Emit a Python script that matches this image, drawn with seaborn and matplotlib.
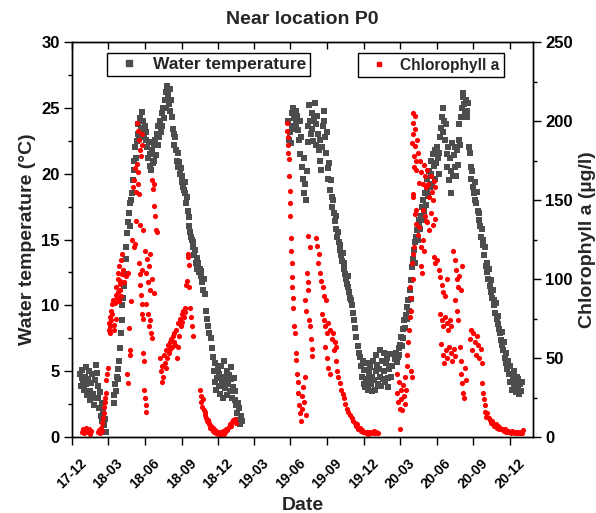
import numpy as np
import pandas as pd
import matplotlib
matplotlib.use("Agg")
import matplotlib.pyplot as plt
import matplotlib.dates as mdates
from matplotlib.lines import Line2D
from matplotlib.ticker import MultipleLocator
import seaborn as sns

# Observation dates are stored as days since 2017-12-01
START = pd.Timestamp("2017-12-01")

# Water temperature (°C), first season: Dec 2017 - Jan 2019
temp_2018 = [
    (20, 4.8), (22, 3.9), (24, 4.5), (26, 5.1), (28, 4.2), (30, 3.6), (32, 4.6), (34, 5.3),
    (36, 4.0), (38, 3.2), (40, 4.4), (42, 5.0), (44, 3.5), (46, 2.8), (48, 4.1), (50, 4.8),
    (52, 3.3), (54, 2.4), (56, 3.0), (58, 4.3), (60, 5.5), (62, 4.9), (64, 3.9), (66, 3.0),
    (68, 2.2), (70, 3.4), (72, 1.6), (74, 2.6), (76, 1.2), (78, 2.0), (80, 0.9), (83, 1.4),
    (86, 0.4),
    (104, 2.6), (106, 3.2), (108, 4.0), (110, 3.5), (112, 4.6), (114, 5.2), (116, 4.4),
    (118, 5.8), (120, 6.8), (122, 7.9), (124, 8.9), (126, 10.0), (128, 10.6), (130, 11.5),
    (132, 12.4), (134, 13.5), (136, 14.4), (138, 15.5), (140, 16.3), (142, 17.0), (144, 17.8),
    (146, 16.0), (148, 18.0), (150, 18.5), (152, 19.5), (154, 20.3), (156, 21.0), (158, 22.0),
    (160, 21.2), (162, 22.5), (164, 23.0), (166, 23.8), (168, 22.9), (170, 24.2), (172, 23.5),
    (174, 24.7), (176, 23.2), (178, 24.0), (180, 22.8), (182, 23.6), (184, 22.6), (186, 23.2),
    (188, 22.0), (190, 21.2), (192, 22.4), (194, 20.6), (196, 21.5), (198, 20.3), (200, 21.8),
    (202, 20.8), (204, 22.2), (206, 21.0), (208, 22.6), (210, 21.4), (212, 23.0), (214, 22.2),
    (216, 23.6), (218, 22.8), (220, 24.0), (222, 23.2), (224, 24.6), (226, 23.6), (228, 25.0),
    (230, 24.2), (232, 25.6), (234, 26.2), (236, 25.0), (238, 26.7), (240, 26.0), (242, 25.3),
    (244, 26.4), (246, 24.8), (248, 25.6), (250, 24.3), (252, 23.4), (254, 23.0), (256, 22.2),
    (258, 22.8), (260, 21.8), (262, 21.0), (264, 21.6), (266, 20.5), (268, 20.9), (270, 20.0),
    (272, 20.4), (274, 19.4), (276, 19.8), (278, 19.0), (280, 18.8), (282, 19.4), (284, 18.5),
    (286, 17.8), (288, 18.2), (290, 17.2), (292, 16.7), (294, 16.0), (296, 15.6), (298, 15.2),
    (300, 15.0), (302, 14.4), (304, 14.8), (306, 13.8), (308, 14.2), (310, 13.2), (312, 13.6),
    (314, 12.8), (316, 13.2), (318, 12.5), (320, 12.8), (322, 12.2), (324, 12.6), (326, 11.8),
    (328, 11.2), (330, 12.0), (332, 10.9), (335, 9.6), (338, 9.0), (341, 8.4), (344, 7.9),
    (347, 7.5), (350, 6.8), (353, 6.1), (355, 5.0), (357, 4.2), (359, 5.6), (361, 3.6),
    (363, 4.5), (365, 5.2), (367, 3.9), (369, 4.8), (371, 3.3), (373, 5.4), (375, 4.1),
    (377, 3.0), (379, 4.6), (381, 5.8), (383, 3.7), (385, 4.3), (387, 5.0), (389, 3.2),
    (391, 4.0), (393, 4.7), (395, 3.5), (397, 5.3), (399, 4.4), (401, 3.0), (403, 3.8),
    (405, 4.5), (407, 2.8), (409, 3.5), (411, 2.4), (413, 1.8), (415, 2.6), (417, 1.3),
    (419, 2.2), (421, 1.0), (423, 1.6), (425, 1.2),
]

# Water temperature (°C), second record: Jun 2019 - Jan 2021
temp_2019_20 = [
    (542, 24.0), (544, 22.6), (546, 23.2), (548, 22.3), (550, 24.6), (552, 23.6), (554, 25.0),
    (556, 24.2), (558, 23.4), (560, 24.8), (562, 23.8), (564, 24.4), (566, 23.3), (568, 22.6),
    (570, 24.0), (572, 21.5), (574, 22.8), (576, 20.5), (578, 19.6), (580, 21.2), (582, 18.5),
    (584, 19.2), (586, 18.0), (588, 20.2), (590, 22.4), (592, 23.6), (594, 25.2), (596, 24.0),
    (598, 23.0), (600, 24.6), (602, 23.4), (604, 22.5), (606, 24.2), (608, 25.4), (610, 23.8),
    (612, 22.2), (614, 24.4), (616, 23.0), (618, 21.8), (620, 22.6), (622, 21.0), (624, 20.3),
    (626, 22.0), (628, 23.6), (630, 24.8), (632, 24.0), (634, 22.8), (636, 21.6), (638, 23.2),
    (640, 20.4), (642, 19.6), (644, 20.8), (646, 18.8), (648, 19.5), (650, 18.2), (652, 17.5),
    (654, 18.0), (656, 17.0), (658, 16.4), (660, 16.8), (662, 15.8), (664, 15.2), (666, 15.6),
    (668, 14.8), (670, 14.2), (672, 14.6), (674, 13.8), (676, 13.4), (678, 14.0), (680, 12.8),
    (682, 13.2), (684, 12.4), (686, 12.0), (688, 11.6), (690, 12.2), (692, 11.4), (694, 11.0),
    (696, 10.6), (698, 10.4), (700, 10.0), (703, 9.4), (706, 8.9), (709, 8.3), (712, 7.6),
    (715, 6.9), (718, 6.4), (721, 6.1), (724, 5.4), (726, 4.6), (728, 5.8), (730, 4.0),
    (732, 5.1), (734, 3.8), (736, 4.4), (738, 5.6), (740, 4.2), (742, 3.6), (744, 4.9),
    (746, 5.3), (748, 4.0), (750, 3.5), (752, 4.6), (754, 5.8), (756, 4.3), (758, 3.6),
    (760, 5.0), (762, 6.2), (764, 5.5), (766, 4.0), (768, 5.2), (770, 6.6), (772, 4.6),
    (774, 3.9), (776, 5.8), (778, 4.4), (780, 6.4), (782, 5.0), (784, 4.2), (786, 5.6),
    (788, 6.0), (790, 4.5), (792, 3.8), (794, 5.2), (796, 6.3), (798, 4.6), (801, 5.4),
    (810, 5.9), (812, 6.4), (814, 5.7), (816, 6.1), (818, 6.8), (820, 6.2), (822, 7.0),
    (824, 7.6), (826, 6.9), (828, 8.2), (830, 7.5), (832, 8.9), (834, 8.3), (836, 9.3),
    (838, 9.9), (840, 9.0), (842, 10.4), (844, 9.6), (846, 11.2), (848, 10.5), (850, 11.9),
    (852, 12.9), (854, 13.5), (856, 14.2), (858, 13.2), (860, 14.8), (862, 15.2), (864, 15.7),
    (866, 15.0), (868, 16.2), (870, 16.5), (872, 15.8), (874, 16.8), (876, 17.5), (878, 16.5),
    (880, 18.0), (882, 17.2), (884, 18.5), (886, 17.6), (888, 18.8), (890, 19.6), (892, 18.3),
    (894, 20.2), (896, 19.0), (898, 21.0), (900, 20.0), (902, 19.2), (904, 21.5), (906, 20.6),
    (908, 19.6), (910, 21.8), (912, 20.8), (914, 22.0), (916, 21.2), (918, 20.0), (920, 21.6),
    (922, 22.8), (924, 23.5), (926, 24.3), (928, 23.2), (930, 25.0), (932, 24.0), (934, 22.6),
    (936, 23.8), (938, 21.5), (940, 20.5), (942, 22.0), (944, 19.5), (946, 21.2), (948, 18.5),
    (950, 20.2), (952, 22.3), (954, 19.8), (956, 21.4), (958, 20.5), (960, 22.0), (962, 19.8),
    (964, 21.8), (966, 20.7), (968, 22.6), (970, 23.8), (972, 22.2), (974, 24.3), (976, 25.0),
    (978, 25.8), (980, 26.1), (982, 25.3), (984, 24.6), (986, 25.6), (988, 24.3), (990, 24.8),
    (992, 25.4), (994, 22.0), (996, 21.6), (998, 20.5), (1000, 19.6), (1002, 20.2), (1004, 19.0),
    (1006, 18.5), (1008, 19.4), (1010, 18.0), (1012, 17.8), (1014, 18.6), (1016, 17.2),
    (1018, 16.5), (1020, 17.0), (1022, 16.0), (1024, 15.2), (1026, 15.8), (1028, 14.6),
    (1030, 15.0), (1032, 13.8), (1034, 14.4), (1036, 13.0), (1038, 12.5), (1040, 13.2),
    (1042, 12.0), (1044, 12.8), (1046, 11.5), (1048, 11.9), (1050, 11.0), (1052, 10.6),
    (1054, 11.2), (1056, 10.4), (1058, 10.0), (1060, 9.4), (1062, 10.2), (1064, 9.0),
    (1066, 8.6), (1068, 9.2), (1070, 8.2), (1072, 7.9), (1074, 7.4), (1076, 8.0), (1078, 7.0),
    (1080, 6.6), (1082, 7.2), (1084, 6.0), (1086, 5.6), (1088, 6.4), (1090, 5.2), (1092, 5.8),
    (1094, 4.8), (1096, 5.4), (1098, 4.2), (1100, 4.8), (1102, 3.6), (1104, 4.4), (1106, 5.0),
    (1108, 3.8), (1110, 4.2), (1112, 3.4), (1114, 4.6), (1116, 3.8), (1118, 4.4), (1120, 3.3),
    (1122, 4.0), (1124, 3.5), (1126, 4.2),
]

# Chlorophyll a (µg/l), Dec 2017 - Jan 2019
chl_2018 = [
    (24, 3.5), (27, 5.2), (30, 2.4), (33, 4.0), (36, 6.0), (39, 3.0), (42, 4.8), (45, 2.2),
    (48, 3.6), (66, 3.0), (68, 4.6), (70, 2.5), (72, 6.0), (74, 4.0), (76, 9.0), (78, 12.0),
    (79, 15.0), (80, 19.0), (82, 22.0), (83, 25.0), (84, 28.0), (86, 36.0), (87, 40.0),
    (89, 44.0), (92, 68), (93, 72), (94, 76), (95, 66), (96, 70), (97, 74), (98, 80), (99, 84),
    (100, 78), (102, 87), (104, 71), (106, 68), (110, 75), (107, 85), (109, 90), (111, 95),
    (113, 88), (115, 92), (117, 86), (119, 97), (121, 93), (123, 89), (114, 100), (116, 104),
    (118, 108), (120, 99), (122, 112), (124, 116), (126, 103), (128, 106), (130, 98),
    (134, 102), (140, 104), (138, 40), (141, 34), (142, 69), (144, 55), (146, 52), (148, 86),
    (150, 125), (154, 120), (158, 122), (152, 158), (156, 163), (160, 155), (164, 160),
    (168, 154), (157, 170), (162, 173), (166, 168), (163, 199), (165, 194), (167, 188),
    (170, 182), (172, 178), (174, 192), (176, 185), (159, 137), (171, 134), (178, 131),
    (167, 110), (169, 103), (170, 96), (172, 90), (174, 84), (176, 106), (175, 78), (177, 75),
    (178, 53), (180, 48), (180, 30), (182, 25), (184, 20), (186, 16), (183, 118), (188, 113),
    (192, 108), (196, 116), (186, 104), (190, 98), (195, 93), (199, 100), (204, 91), (184, 84),
    (190, 78), (195, 74), (193, 70), (197, 66), (199, 63), (200, 163), (203, 157), (206, 160),
    (204, 146), (208, 140), (210, 131), (213, 130),
    (220, 50), (222, 42), (224, 35), (226, 45), (228, 38), (230, 52), (232, 47), (234, 55),
    (236, 44), (238, 50), (240, 58), (242, 53), (244, 60), (246, 56), (248, 62), (250, 57),
    (252, 64), (254, 60), (256, 66), (258, 58), (260, 68), (262, 50), (264, 57), (266, 72),
    (268, 64), (270, 75), (272, 70), (274, 78), (276, 73), (278, 80), (280, 76), (282, 82),
    (284, 79), (286, 96), (288, 99), (290, 114), (291, 116), (292, 109), (294, 95), (296, 82),
    (298, 76), (300, 70), (302, 64),
    (320, 30), (322, 26), (324, 22), (326, 19), (328, 24), (330, 17), (332, 14), (334, 16),
    (336, 12), (338, 10), (340, 11), (342, 8), (344, 9), (346, 6), (348, 7), (350, 5),
    (352, 4), (354, 6), (356, 3), (358, 4.5), (360, 2.5), (362, 3.5), (365, 2.0), (368, 3.2),
    (371, 1.5), (374, 2.8), (377, 4.0), (380, 2.2), (383, 3.5), (386, 5.0), (389, 4.2),
    (392, 6.5), (395, 8.0), (398, 7.2), (401, 9.5), (404, 10.5), (407, 11.5), (410, 9.0),
]

# Chlorophyll a (µg/l), Jun 2019 - Jan 2020
chl_2019 = [
    (538, 199), (539, 194), (540, 190), (541, 185), (542, 180), (543, 176), (544, 165),
    (545, 156), (546, 148), (547, 140), (548, 126), (549, 118), (550, 110), (551, 101),
    (552, 95), (553, 88), (554, 82), (556, 70), (558, 66), (560, 53), (562, 49), (563, 40),
    (565, 35), (567, 28), (569, 20), (571, 15), (573, 10), (575, 26), (577, 18), (579, 32),
    (581, 22), (583, 38), (585, 14), (584, 87), (586, 80), (588, 104), (590, 98), (592, 93),
    (594, 74), (596, 70), (598, 62), (600, 51), (602, 56), (590, 127), (595, 120), (610, 126),
    (614, 121), (618, 116), (616, 110), (620, 104), (624, 99), (628, 95), (632, 89), (636, 87),
    (626, 78), (630, 74), (634, 70), (638, 66), (642, 72), (646, 68), (650, 62), (654, 66),
    (658, 60), (662, 57), (634, 57), (638, 50), (642, 44), (646, 40), (656, 55), (660, 48),
    (664, 42), (666, 38), (670, 34), (674, 30), (678, 27), (682, 25), (684, 21), (688, 18),
    (692, 16), (696, 14), (700, 12), (704, 10), (708, 9), (711, 7), (714, 8), (717, 5),
    (720, 6), (723, 4), (726, 4.5), (729, 3), (732, 3.5), (735, 2.5), (738, 3), (741, 2),
    (744, 3), (747, 2.5), (750, 3.5), (753, 2.8), (756, 3.8), (759, 2.5), (762, 3.2),
    (765, 2.8),
]

# Chlorophyll a (µg/l), Mar 2020 - Jan 2021
chl_2020 = [
    (813, 40), (815, 28), (817, 22), (819, 35), (821, 18), (822, 5), (823, 30), (825, 24),
    (827, 17), (829, 33), (831, 26), (833, 21), (835, 38), (837, 30), (838, 45), (840, 52),
    (842, 60), (844, 68), (846, 76), (848, 80), (850, 42), (852, 38), (847, 95), (849, 88),
    (851, 110), (853, 100), (855, 116), (857, 120), (859, 141), (861, 144), (852, 186),
    (853, 199), (854, 205), (855, 192), (856, 178), (857, 171), (858, 184), (859, 203),
    (860, 195), (861, 175), (862, 169), (864, 188), (866, 180), (868, 161), (862, 135),
    (866, 128), (870, 133), (874, 120), (878, 125), (882, 118), (886, 137), (853, 154),
    (855, 152), (872, 175), (875, 168), (878, 160), (881, 172), (884, 165), (887, 158),
    (889, 169), (892, 160), (895, 152), (898, 165), (901, 155), (904, 150), (907, 162),
    (910, 158), (880, 144), (885, 140), (890, 136), (895, 131), (900, 142), (905, 134),
    (910, 138), (873, 108), (877, 104), (906, 114), (910, 110), (914, 112), (918, 106),
    (922, 101), (926, 96), (930, 92), (934, 89), (938, 100), (922, 78), (926, 74), (930, 70),
    (934, 76), (938, 72), (942, 68), (946, 74), (950, 70), (924, 59), (928, 52), (932, 47),
    (936, 55), (940, 50), (944, 57), (948, 53), (952, 48), (956, 56), (960, 51), (955, 118),
    (958, 112), (961, 106), (964, 100), (967, 95), (970, 102), (973, 93), (976, 108),
    (959, 87), (963, 80), (966, 74), (971, 57), (973, 48), (975, 40), (977, 34), (979, 28),
    (981, 25), (984, 44), (987, 36), (996, 62), (999, 68), (1002, 55), (1005, 66), (1008, 60),
    (1011, 52), (1014, 64), (1017, 58), (1020, 50), (1023, 56), (1026, 47), (1027, 34),
    (1029, 28), (1031, 24), (1033, 20), (1035, 16), (1037, 13), (1040, 15), (1043, 12),
    (1046, 11), (1049, 9), (1052, 10), (1055, 8), (1058, 7), (1061, 8), (1064, 6), (1067, 7),
    (1070, 5), (1073, 6), (1076, 5), (1079, 4.5), (1082, 4), (1085, 5), (1088, 3.5),
    (1091, 4), (1094, 3), (1097, 3.5), (1100, 2.8), (1103, 4), (1106, 3), (1109, 2.5),
    (1112, 3.2), (1115, 2.5), (1118, 3.5), (1121, 2.8), (1124, 3), (1127, 2.5), (1130, 4.5),
]

GRAY = "#4d4d4d"
RED = "#ff0000"


def to_frame(records, name):
    df = pd.DataFrame(records, columns=["day", name])
    df["date"] = START + pd.to_timedelta(df["day"], unit="D")
    return df


temp_df = to_frame(temp_2018 + temp_2019_20, "temperature")
chl_df = to_frame(chl_2018 + chl_2019 + chl_2020, "chlorophyll")

sns.set_theme(style="ticks")
plt.rcParams["font.family"] = ["Liberation Sans", "DejaVu Sans"]
plt.rcParams["font.weight"] = "bold"

fig = plt.figure(figsize=(5.96, 5.13), dpi=100)
ax1 = fig.add_axes([0.121, 0.148, 0.773, 0.770])
ax2 = ax1.twinx()

sns.scatterplot(data=temp_df, x="date", y="temperature", ax=ax1, marker="s", s=19,
                color=GRAY, linewidth=0, legend=False)
sns.scatterplot(data=chl_df, x="date", y="chlorophyll", ax=ax2, marker="o", s=14,
                color=RED, linewidth=0, legend=False)

ax1.set_xlim(pd.Timestamp("2017-12-01"), pd.Timestamp("2021-01-28"))
ax1.set_ylim(0, 30)
ax2.set_ylim(0, 250)

ax1.xaxis.set_major_locator(mdates.MonthLocator(bymonth=[3, 6, 9, 12]))
ax1.xaxis.set_major_formatter(mdates.DateFormatter("%y-%m"))
ax1.yaxis.set_major_locator(MultipleLocator(5))
ax1.yaxis.set_minor_locator(MultipleLocator(2.5))
ax2.yaxis.set_major_locator(MultipleLocator(50))
ax2.yaxis.set_minor_locator(MultipleLocator(25))

for ax in (ax1, ax2):
    for sp in ax.spines.values():
        sp.set_visible(True)
        sp.set_color("black")
        sp.set_linewidth(1.0)

ax1.tick_params(axis="x", which="major", direction="out", length=6, width=1,
                labelsize=10, pad=8, colors="black")
ax1.tick_params(axis="y", which="major", direction="out", length=6, width=1,
                labelsize=12, pad=3, colors="black")
ax1.tick_params(axis="y", which="minor", direction="out", length=3, width=1, colors="black")
ax2.tick_params(axis="y", which="major", direction="out", length=6, width=1,
                labelsize=12, pad=3, colors="black")
ax2.tick_params(axis="y", which="minor", direction="out", length=3, width=1, colors="black")

# inward ticks along the top edge
ax2.xaxis.set_visible(True)
ax2.set_xlabel("")
ax2.tick_params(axis="x", which="major", bottom=False, labelbottom=False, top=True,
                labeltop=False, direction="in", length=5, width=1, colors="black")

for lab in ax1.get_xticklabels():
    lab.set_rotation(45)
    lab.set_ha("center")
    lab.set_fontweight("bold")
for lab in ax1.get_yticklabels() + ax2.get_yticklabels():
    lab.set_fontweight("bold")

ax1.set_xlabel("Date", fontsize=14, fontweight="bold", labelpad=4)
ax1.set_ylabel("Water temperature (°C)", fontsize=14, fontweight="bold", labelpad=4)
ax2.set_ylabel("Chlorophyll a (µg/l)", fontsize=14, fontweight="bold", labelpad=4)
ax1.set_title("Near location P0", fontsize=14, fontweight="bold", pad=13)

leg_common = dict(loc="upper left", frameon=True, fancybox=False, framealpha=1,
                  edgecolor="black", borderaxespad=0)
leg1 = ax2.legend(handles=[Line2D([], [], ls="", marker="s", markersize=4.2, color=GRAY)],
                  labels=["Water temperature"], bbox_to_anchor=(0.076, 0.972),
                  borderpad=0.22, handlelength=2.1, handletextpad=0.33,
                  prop={"size": 12.5, "weight": "bold"}, **leg_common)
leg1.get_frame().set_linewidth(1.0)
ax2.add_artist(leg1)
leg2 = ax2.legend(handles=[Line2D([], [], ls="", marker="s", markersize=3.4, color=RED)],
                  labels=["Chlorophyll a"], bbox_to_anchor=(0.620, 0.972),
                  borderpad=0.3, handlelength=2.1, handletextpad=0.33,
                  prop={"size": 11.2, "weight": "bold"}, **leg_common)
leg2.get_frame().set_linewidth(1.0)

fig.savefig("out.png", dpi=100)
